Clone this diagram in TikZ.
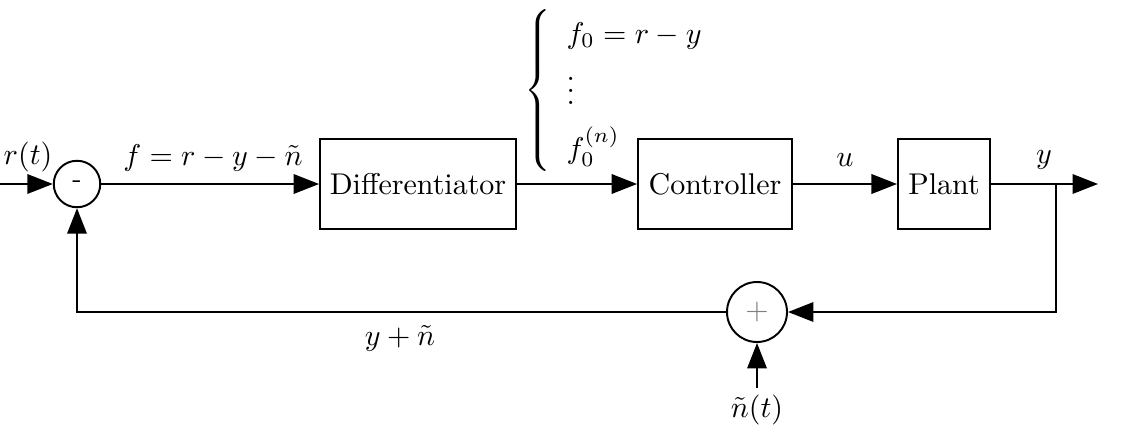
\documentclass[tikz,border=0pt]{standalone}
\usetikzlibrary{arrows.meta}
\begin{document}
\begin{tikzpicture}[x=0.33333pt,y=-0.33333pt,
  line width=0.65pt,
  arr/.style={-{Triangle[length=8.5pt,width=6.5pt]}},
  blk/.style={draw,rectangle,minimum height=30pt,inner sep=2pt},
  sumc/.style={draw,circle,inner sep=0pt}]
\useasboundingbox (0,0) rectangle (1125,432);
\node[sumc,minimum size=15.5pt] (s1) at (77,184) {\small -};
\node[blk,minimum width=65.3pt] (diff) at (418,184) {Differentiator};
\node[blk,minimum width=51.3pt] (ctrl) at (715,184) {Controller};
\node[blk,minimum width=30.7pt] (plant) at (944,184) {Plant};
\node[sumc,minimum size=20pt] (s2) at (757,312) {\textcolor{gray}{$+$}};
\coordinate (in) at (0,184);
\coordinate (out) at (1098,184);
\coordinate (br) at (1056,184);
\coordinate (brd) at (1056,312);
\coordinate (fbl) at (77,312);
\coordinate (nin) at (757,388);
\draw[arr] (in) -- (s1);
\draw[arr] (s1) -- (diff);
\draw[arr] (diff) -- (ctrl);
\draw[arr] (ctrl) -- (plant);
\draw[arr] (plant) -- (out);
\draw[arr] (br) -- (brd) -- (s2);
\draw[arr] (s2) -- (fbl) -- (s1);
\draw[arr] (nin) -- (s2);
\node (lr) at (28,157) {$r(t)$};
\node (lf) at (213,158) {$f=r-y-\tilde n$};
\node (lu) at (845,160) {$u$};
\node (ly) at (1044,160) {$y$};
\node (lyn) at (400,338) {$y+\tilde n$};
\node (ln) at (757,410) {$\tilde n(t)$};
\node[anchor=west,inner sep=0pt] (arr) at (524,90) {\renewcommand{\arraystretch}{1.5}$\left\{\begin{array}{l} f_0=r-y\\ \vdots\\ f_0^{(n)}\end{array}\right.$};
\end{tikzpicture}
\end{document}
